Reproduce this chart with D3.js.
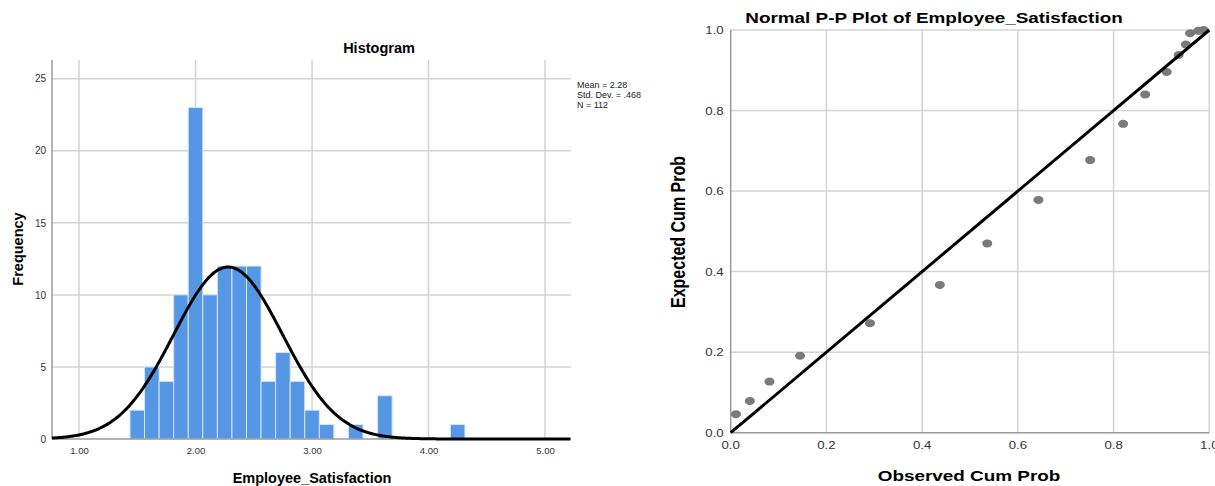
<!DOCTYPE html>
<html>
<head>
<meta charset="utf-8">
<script src="https://cdn.jsdelivr.net/npm/d3@7"></script>
<style>
  body { margin: 0; background: #fff; }
  svg { display: block; font-family: "Liberation Sans", Arial, sans-serif; }
</style>
</head>
<body>
<svg id="chart" width="1215" height="486"></svg>
<script>
// histogram bins (start, width) and frequencies
var binStart = 1.4375;
var binWidth = 0.125;
var binCounts = [2, 5, 4, 10, 23, 10, 12, 12, 12, 4, 6, 4, 2, 1, 0, 1, 0, 3, 0, 0, 0, 0, 1];

// descriptive stats shown beside the histogram
var mean = 2.28;
var stdDev = 0.468;
var nObs = 112;

var histXTicks = [1, 2, 3, 4, 5];
var histYTicks = [0, 5, 10, 15, 20, 25];

// P-P plot points
var observedCum = [0.011, 0.040, 0.081, 0.145, 0.291, 0.437, 0.536, 0.643, 0.751, 0.820, 0.866, 0.911, 0.936, 0.951, 0.960, 0.977, 0.988];
var expectedCum = [0.046, 0.079, 0.127, 0.191, 0.272, 0.367, 0.470, 0.578, 0.677, 0.767, 0.840, 0.896, 0.938, 0.964, 0.992, 0.998, 1.000];
var ppTicks = [0, 0.2, 0.4, 0.6, 0.8, 1.0];

var svg = d3.select("#chart");
var gridColor = "#d4d4d4";
var axisColor = "#9a9a9a";
var stretch = 1.26; // the p-p panel is a bit wider than tall in the original

//---------------- histogram ----------------
var hx = d3.scaleLinear().domain([0.768, 5.223]).range([52, 571]);
var hy = d3.scaleLinear().domain([0, 26.3]).range([439, 60]);

var hist = svg.append("g");

//grid lines
hist.selectAll(".hgrid")
  .data(histYTicks.slice(1))
  .enter().append("line")
  .attr("x1", hx.range()[0]).attr("x2", hx.range()[1])
  .attr("y1", hy).attr("y2", hy)
  .attr("stroke", gridColor).attr("stroke-width", 1.5);

hist.selectAll(".vgrid")
  .data(histXTicks)
  .enter().append("line")
  .attr("x1", hx).attr("x2", hx)
  .attr("y1", hy.range()[1]).attr("y2", hy.range()[0])
  .attr("stroke", gridColor).attr("stroke-width", 1.5);

//bars, empty bins skipped
var bars = binCounts.map(function(c, i) {
  return { x0: binStart + i * binWidth, x1: binStart + (i + 1) * binWidth, count: c };
}).filter(function(b) { return b.count > 0; });

hist.selectAll("rect.bar")
  .data(bars)
  .enter().append("rect")
  .attr("class", "bar")
  .attr("x", function(b) { return hx(b.x0); })
  .attr("width", function(b) { return hx(b.x1) - hx(b.x0); })
  .attr("y", function(b) { return hy(b.count); })
  .attr("height", function(b) { return hy(0) - hy(b.count); })
  .attr("fill", "#5596e5")
  .attr("stroke", "#d5e4f8")
  .attr("stroke-width", 1);

//axis lines
hist.append("line")
  .attr("x1", hx.range()[0]).attr("x2", hx.range()[0])
  .attr("y1", hy.range()[1]).attr("y2", hy(0))
  .attr("stroke", axisColor).attr("stroke-width", 1.5);
hist.append("line")
  .attr("x1", hx.range()[0]).attr("x2", hx.range()[1])
  .attr("y1", hy(0)).attr("y2", hy(0))
  .attr("stroke", axisColor).attr("stroke-width", 1.5);

//normal curve scaled to the counts
var curveX = d3.range(hx.domain()[0], hx.domain()[1] + 0.001, 0.01);
var normalLine = d3.line()
  .x(function(v) { return hx(v); })
  .y(function(v) {
    var z = (v - mean) / stdDev;
    return hy(nObs * binWidth * Math.exp(-0.5 * z * z) / (stdDev * Math.sqrt(2 * Math.PI)));
  });
hist.append("path")
  .attr("d", normalLine(curveX))
  .attr("fill", "none")
  .attr("stroke", "#000")
  .attr("stroke-width", 3);

//tick labels
hist.append("g")
  .attr("transform", "translate(0," + hy(0) + ")")
  .call(d3.axisBottom(hx).tickValues(histXTicks).tickSize(0).tickPadding(8).tickFormat(d3.format(".2f")))
  .call(function(g) { g.select(".domain").remove(); })
  .selectAll("text").attr("font-size", "9.5px").attr("fill", "#333").attr("font-family", null);

hist.append("g")
  .attr("transform", "translate(" + hx.range()[0] + ",0)")
  .call(d3.axisLeft(hy).tickValues(histYTicks).tickSize(0).tickPadding(6))
  .call(function(g) { g.select(".domain").remove(); })
  .selectAll("text").attr("font-size", "10px").attr("fill", "#333").attr("font-family", null);

//titles
hist.append("text")
  .attr("x", 379).attr("y", 53)
  .attr("text-anchor", "middle")
  .attr("font-size", "14.5px").attr("font-weight", "bold")
  .text("Histogram");

hist.append("text")
  .attr("x", 312).attr("y", 483)
  .attr("text-anchor", "middle")
  .attr("font-size", "14.5px").attr("font-weight", "bold")
  .text("Employee_Satisfaction");

hist.append("text")
  .attr("transform", "translate(23,249) rotate(-90)")
  .attr("text-anchor", "middle")
  .attr("font-size", "14.5px").attr("font-weight", "bold")
  .text("Frequency");

//stats box
var statLines = ["Mean = " + mean.toFixed(2), "Std. Dev. = " + d3.format(".3f")(stdDev).replace(/^0/, ""), "N = " + nObs];
hist.selectAll(".stat")
  .data(statLines)
  .enter().append("text")
  .attr("x", 577)
  .attr("y", function(d, i) { return 88 + i * 10; })
  .attr("font-size", "9px").attr("fill", "#222")
  .text(function(d) { return d; });

//---------------- p-p plot ----------------
var px = d3.scaleLinear().domain([0, 1]).range([730.7, 1209.3]);
var py = d3.scaleLinear().domain([0, 1]).range([432.7, 30]);

var pp = svg.append("g");

pp.selectAll(".pvgrid")
  .data(ppTicks.slice(1))
  .enter().append("line")
  .attr("x1", px).attr("x2", px)
  .attr("y1", py(1)).attr("y2", py(0))
  .attr("stroke", gridColor).attr("stroke-width", 1.5);

pp.selectAll(".phgrid")
  .data(ppTicks.slice(1))
  .enter().append("line")
  .attr("x1", px(0)).attr("x2", px(1))
  .attr("y1", py).attr("y2", py)
  .attr("stroke", gridColor).attr("stroke-width", 1.5);

pp.append("line")
  .attr("x1", px(0)).attr("x2", px(0))
  .attr("y1", py(1)).attr("y2", py(0))
  .attr("stroke", axisColor).attr("stroke-width", 1.5);
pp.append("line")
  .attr("x1", px(0)).attr("x2", px(1))
  .attr("y1", py(0)).attr("y2", py(0))
  .attr("stroke", axisColor).attr("stroke-width", 1.5);

//points
pp.selectAll(".pt")
  .data(observedCum)
  .enter().append("ellipse")
  .attr("cx", function(d) { return px(d); })
  .attr("cy", function(d, i) { return py(expectedCum[i]); })
  .attr("rx", 5)
  .attr("ry", 4)
  .attr("fill", "#7a7a7a");

//diagonal reference line
pp.append("line")
  .attr("x1", px(0)).attr("y1", py(0))
  .attr("x2", px(1)).attr("y2", py(1))
  .attr("stroke", "#000").attr("stroke-width", 3);

//tick labels, stretched sideways like the original (last one runs off the edge there too)
pp.selectAll(".pxlab")
  .data(ppTicks)
  .enter().append("text")
  .attr("transform", function(d) { return "translate(" + px(d) + "," + (py(0) + 16) + ") scale(" + stretch + ",1)"; })
  .attr("text-anchor", "middle")
  .attr("font-size", "10.5px").attr("fill", "#333")
  .text(d3.format(".1f"));

pp.selectAll(".pylab")
  .data(ppTicks)
  .enter().append("text")
  .attr("transform", function(d) { return "translate(" + (px(0) - 7) + "," + (py(d) + 4) + ") scale(" + stretch + ",1)"; })
  .attr("text-anchor", "end")
  .attr("font-size", "10.5px").attr("fill", "#333")
  .text(d3.format(".1f"));

pp.append("text")
  .attr("transform", "translate(934,23) scale(" + stretch + ",1)")
  .attr("text-anchor", "middle")
  .attr("font-size", "15px").attr("font-weight", "bold")
  .text("Normal P-P Plot of Employee_Satisfaction");

pp.append("text")
  .attr("transform", "translate(969,481) scale(" + stretch + ",1)")
  .attr("text-anchor", "middle")
  .attr("font-size", "15px").attr("font-weight", "bold")
  .text("Observed Cum Prob");

pp.append("text")
  .attr("transform", "translate(685,232) scale(" + stretch + ",1) rotate(-90)")
  .attr("text-anchor", "middle")
  .attr("font-size", "16px").attr("font-weight", "bold")
  .text("Expected Cum Prob");
</script>
</body>
</html>
